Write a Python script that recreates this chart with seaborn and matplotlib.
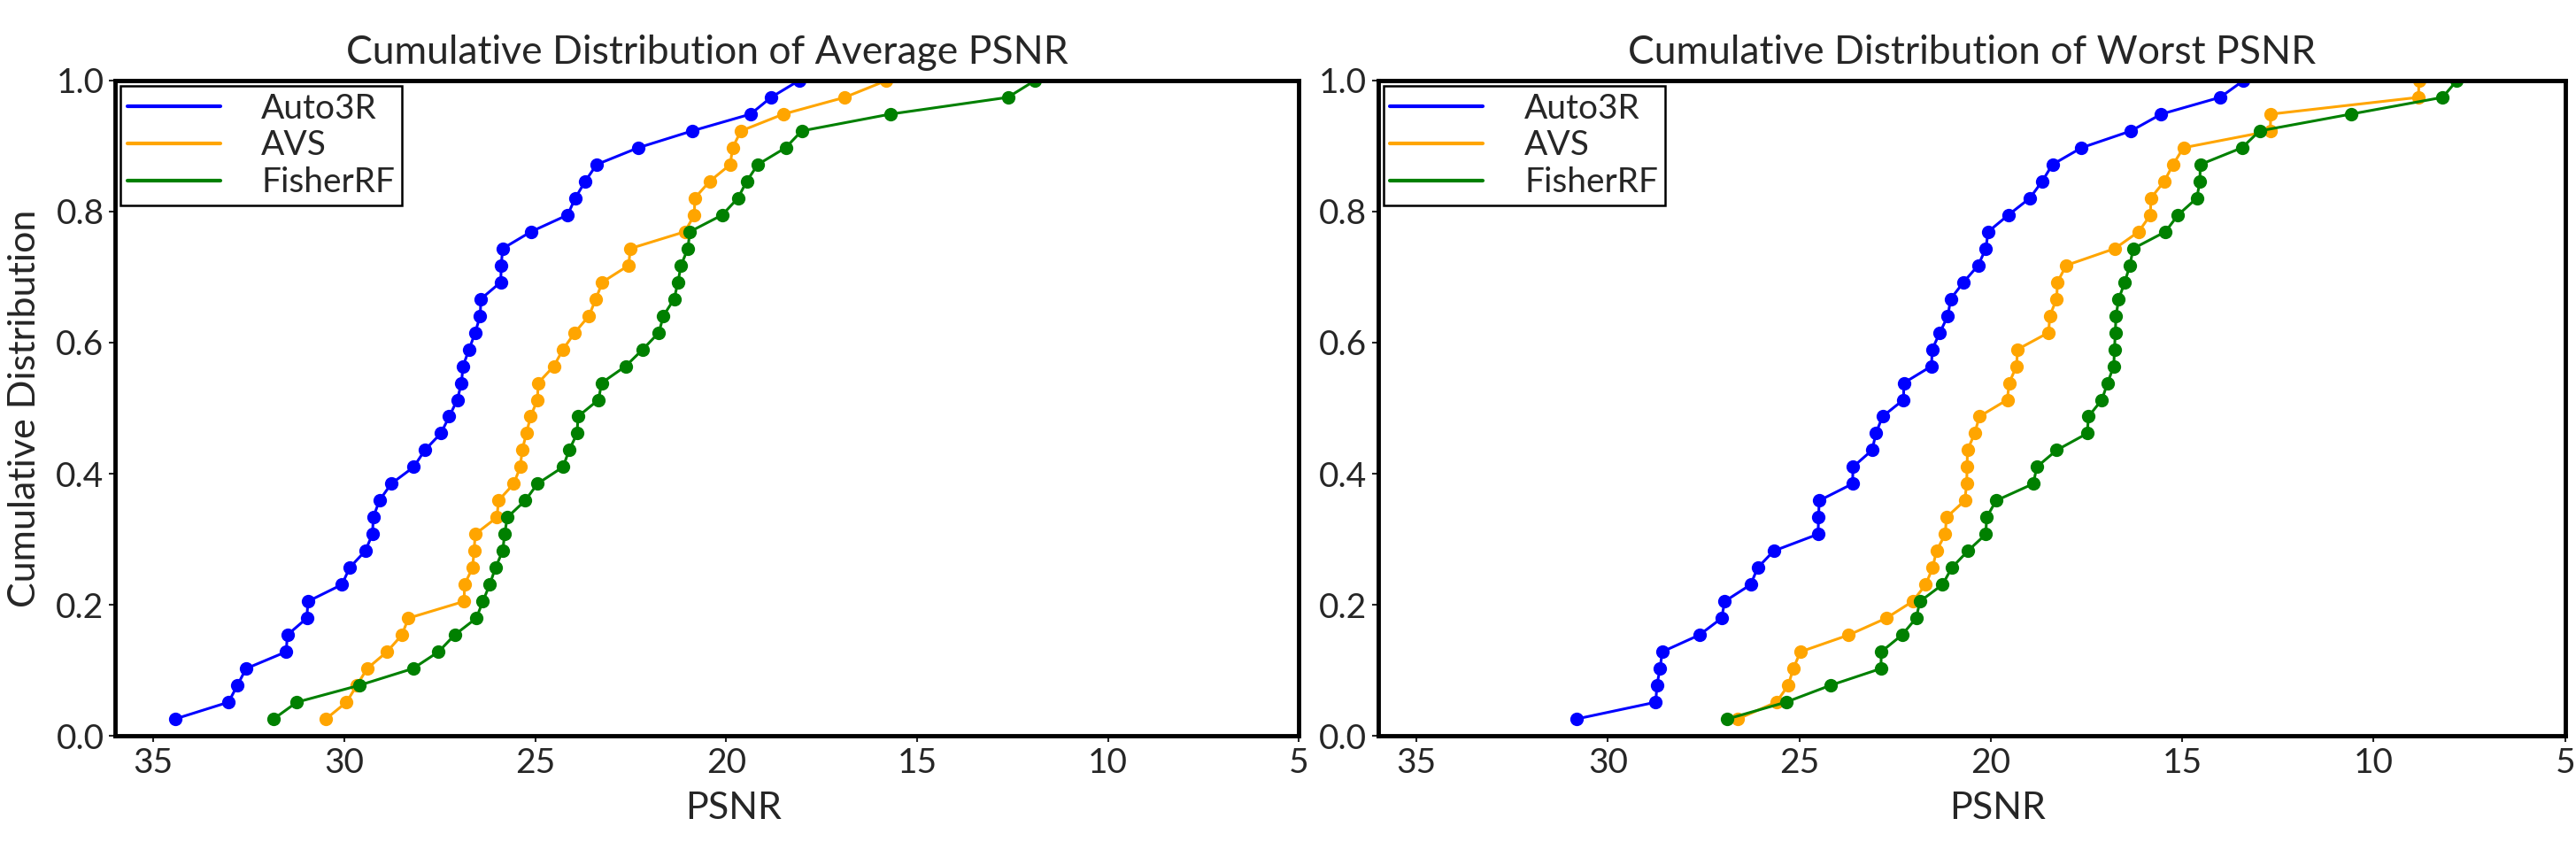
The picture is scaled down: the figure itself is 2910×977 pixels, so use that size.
import numpy as np
import pandas as pd
import matplotlib
matplotlib.use("Agg")
import matplotlib.pyplot as plt
from matplotlib.lines import Line2D
import seaborn as sns

# --- Dane (PSNR per scena) ---
methods = ["Auto3R", "AVS", "FisherRF"]
colors = ["blue", "orange", "green"]

avg_auto3r = [34.43, 33.03, 32.80, 32.57, 31.52, 31.49, 30.98, 30.95, 30.06, 29.86,
              29.45, 29.26, 29.24, 29.08, 28.77, 28.18, 27.89, 27.47, 27.25, 27.04,
              26.93, 26.89, 26.73, 26.57, 26.44, 26.42, 25.90, 25.89, 25.85, 25.11,
              24.15, 23.95, 23.69, 23.39, 22.30, 20.89, 19.36, 18.82, 18.09]
avg_avs = [30.48, 29.94, 29.67, 29.40, 28.88, 28.49, 28.32, 26.86, 26.85, 26.64,
           26.60, 26.57, 26.00, 25.96, 25.56, 25.39, 25.34, 25.23, 25.12, 24.94,
           24.92, 24.51, 24.27, 23.96, 23.59, 23.41, 23.24, 22.55, 22.51, 21.08,
           20.83, 20.82, 20.43, 19.89, 19.83, 19.61, 18.50, 16.89, 15.80]
avg_fisher = [31.85, 31.24, 29.61, 28.20, 27.53, 27.11, 26.54, 26.37, 26.19, 26.04,
              25.85, 25.80, 25.73, 25.26, 24.94, 24.27, 24.11, 23.90, 23.88, 23.34,
              23.26, 22.63, 22.18, 21.76, 21.64, 21.36, 21.26, 21.18, 21.00, 20.95,
              20.10, 19.69, 19.46, 19.17, 18.44, 18.02, 15.70, 12.62, 11.91]

worst_auto3r = [30.82, 28.75, 28.72, 28.64, 28.58, 27.61, 27.03, 26.95, 26.27, 26.09,
                25.67, 24.51, 24.50, 24.48, 23.61, 23.60, 23.10, 23.00, 22.83, 22.28,
                22.27, 21.55, 21.53, 21.33, 21.12, 21.05, 20.71, 20.33, 20.13, 20.07,
                19.54, 18.98, 18.66, 18.39, 17.63, 16.34, 15.55, 14.01, 13.40]
worst_avs = [26.61, 25.60, 25.29, 25.16, 24.97, 23.71, 22.73, 22.04, 21.70, 21.52,
             21.42, 21.19, 21.16, 20.68, 20.63, 20.62, 20.61, 20.42, 20.30, 19.57,
             19.52, 19.33, 19.30, 18.49, 18.46, 18.28, 18.26, 18.03, 16.76, 16.14,
             15.83, 15.82, 15.47, 15.24, 14.97, 12.70, 12.69, 8.83, 8.82]
worst_fisher = [26.88, 25.35, 24.19, 22.87, 22.86, 22.32, 21.95, 21.85, 21.26, 21.02,
                20.60, 20.13, 20.11, 19.86, 18.89, 18.80, 18.28, 17.48, 17.45, 17.10,
                16.95, 16.79, 16.77, 16.75, 16.73, 16.66, 16.50, 16.37, 16.28, 15.44,
                15.11, 14.62, 14.54, 14.53, 13.44, 12.98, 10.60, 8.20, 7.83]

panels = [
    ("Cumulative Distribution of Average PSNR", [avg_auto3r, avg_avs, avg_fisher]),
    ("Cumulative Distribution of Worst PSNR", [worst_auto3r, worst_avs, worst_fisher]),
]

# --- Styl ---
sns.set_style("ticks")
plt.rcParams["font.family"] = ["Lato", "DejaVu Sans"]

fig = plt.figure(figsize=(29.1, 9.77), dpi=100)
axes = [fig.add_axes([0.0447, 0.1494, 0.4595, 0.7575]),
        fig.add_axes([0.5350, 0.1494, 0.4608, 0.7575])]


def ecdf_frame(series):
    # empiryczna dystrybuanta: wartości posortowane malejąco (oś X odwrócona)
    rows = []
    for name, vals in zip(methods, series):
        v = np.sort(np.asarray(vals))[::-1]
        cdf = np.arange(1, len(v) + 1) / len(v)
        rows.append(pd.DataFrame({"PSNR": v, "cdf": cdf, "method": name}))
    return pd.concat(rows, ignore_index=True)


for i, (ax, (title, series)) in enumerate(zip(axes, panels)):
    df = ecdf_frame(series)
    sns.lineplot(data=df, x="PSNR", y="cdf", hue="method", palette=colors,
                 marker="o", markersize=11, markeredgewidth=0, linewidth=2.2,
                 sort=False, estimator=None, legend=False, ax=ax)
    ax.set_xlim(36, 5)
    ax.set_ylim(0, 1)
    ax.set_xticks([35, 30, 25, 20, 15, 10, 5])
    ax.set_yticks([0.0, 0.2, 0.4, 0.6, 0.8, 1.0])
    ax.set_yticklabels(["0.0", "0.2", "0.4", "0.6", "0.8", "1.0"])
    ax.tick_params(labelsize=28, length=5, width=1.5, pad=4)
    for s in ax.spines.values():
        s.set_linewidth(3.5)
        s.set_color("black")
    ax.set_title(title, fontsize=32, pad=14)
    ax.set_xlabel("PSNR", fontsize=31, labelpad=10)
    ax.xaxis.set_label_coords(0.522, -0.085)
    ax.set_ylabel("Cumulative Distribution" if i == 0 else "", fontsize=31, labelpad=12)

    handles = [Line2D([0], [0], color=c, lw=3) for c in colors]
    leg = ax.legend(handles, methods, loc="upper left", fontsize=28,
                    handlelength=2.7, fancybox=False, framealpha=1,
                    borderaxespad=0.15, borderpad=0.2, labelspacing=0.15,
                    handletextpad=1.2)
    leg.get_frame().set_edgecolor("black")
    leg.get_frame().set_linewidth(1.8)

fig.savefig("out.png", dpi=100)
